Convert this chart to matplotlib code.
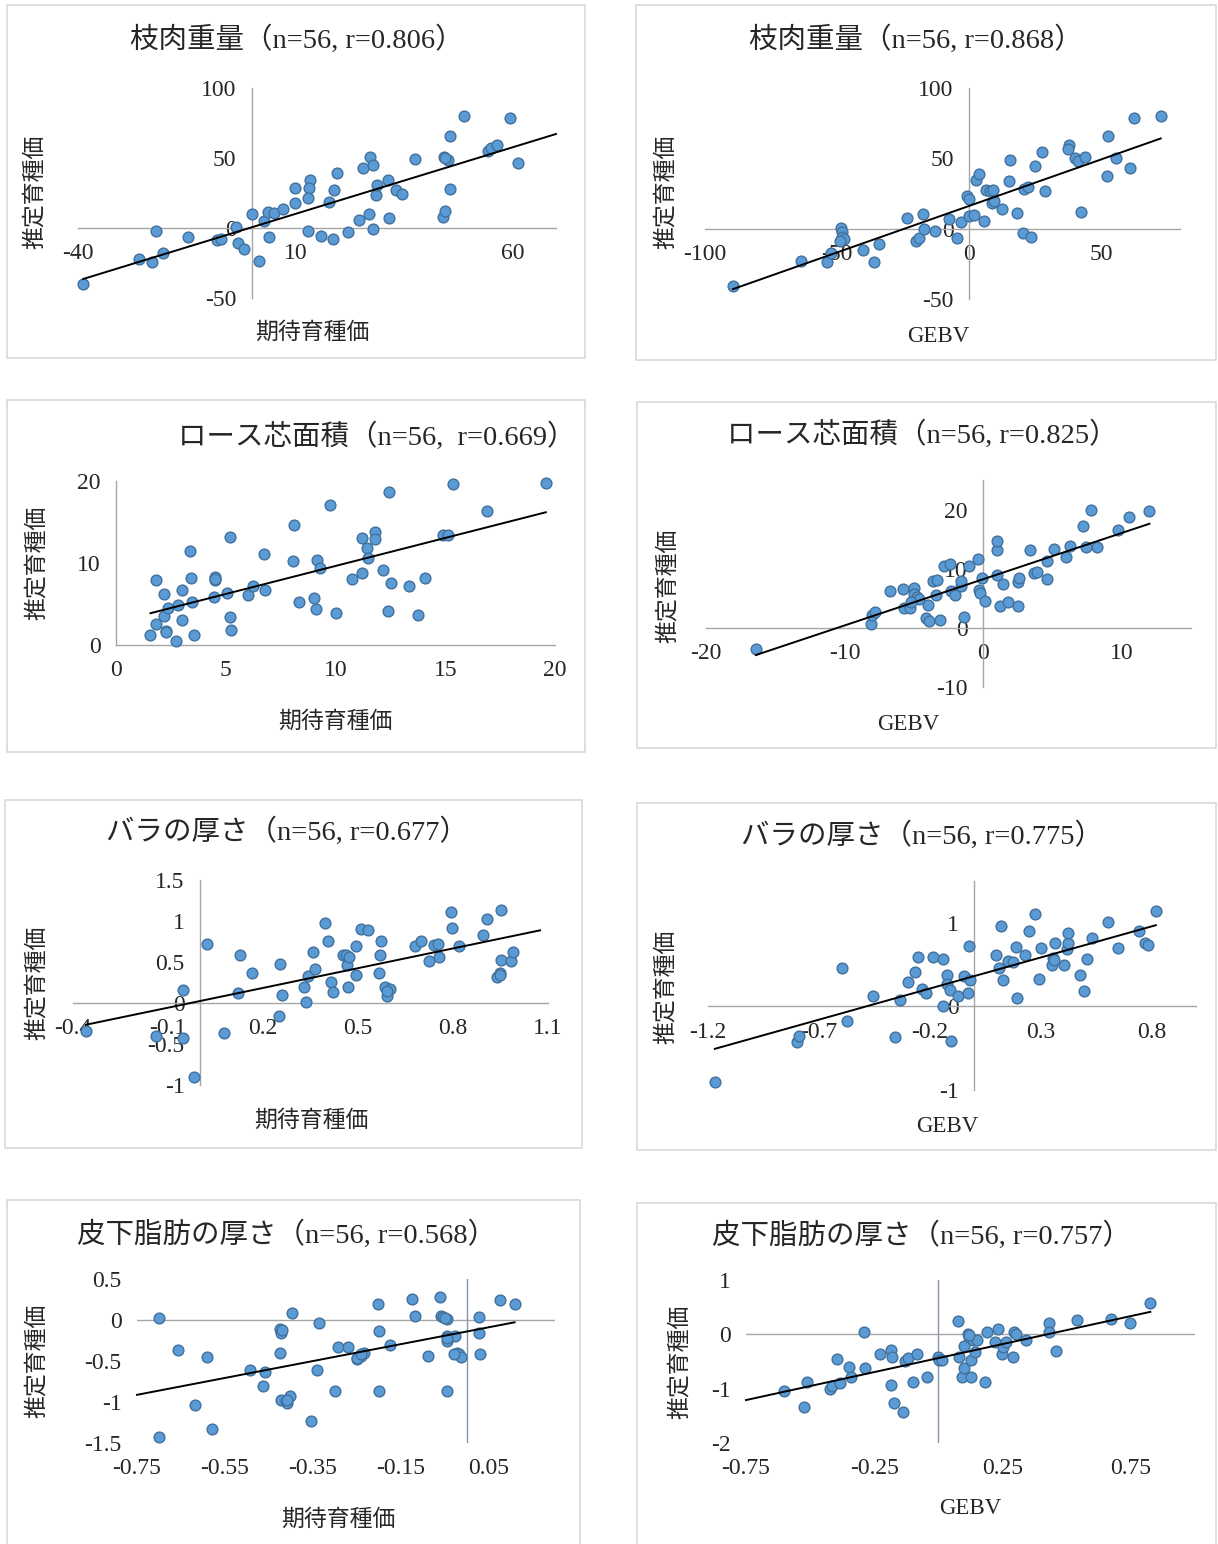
import numpy as np
import matplotlib.pyplot as plt
from matplotlib.patches import Rectangle

plt.rcParams['font.family'] = ['Liberation Serif', 'Noto Sans CJK JP']
plt.rcParams['axes.unicode_minus'] = False

W, H = 1218, 1544

# 枝肉重量 (期待育種価)
carcass_ebv_x = [-38.8, -26.0, -22.9, -22.0, -20.4, -14.8, -8.0, -7.0, -3.7, -3.1, -1.7, 0.0, 1.7, 2.7,
                 3.8, 4.0, 5.0, 7.2, 9.9, 9.9, 13.0, 13.5, 13.1, 12.9, 16.0, 17.7, 18.7, 18.8, 19.7, 22.1,
                 24.7, 25.6, 26.9, 27.1, 27.8, 27.8, 28.5, 28.7, 31.3, 31.5, 33.1, 34.6, 37.6, 44.0, 44.4,
                 44.3, 45.2, 45.6, 45.6, 48.9, 54.3, 55.0, 56.4, 59.4, 61.3, 44.5]
carcass_ebv_y = [-40.3, -22.4, -24.3, -2.1, -17.7, -6.1, -8.5, -7.5, 0.7, -10.6, -15.1, 9.7, -23.8, 5.0,
                 11.6, -6.6, 10.8, 13.7, 28.5, 17.9, -1.9, 34.0, 28.3, 21.2, -5.7, 18.9, -8.0, 26.9, 39.2,
                 -2.8, 5.7, 43.2, 9.9, 50.9, 44.8, -0.7, 23.6, 30.4, 34.2, 6.8, 27.4, 24.5, 49.5, 8.0,
                 11.8, 50.9, 48.6, 66.0, 28.1, 80.0, 54.7, 56.8, 59.4, 78.5, 46.7, 50.0]

# 枝肉重量 (GEBV)
carcass_gebv_x = [-89.4, -63.6, -53.9, -52.3, -48.3, -48.1, -47.9, -47.4, -48.7, -40.1, -36.0, -34.1,
                  -23.6, -20.1, -18.9, -17.3, -17.1, -12.7, -7.4, -4.6, -3.0, -0.6, 0.1, 0.1, 1.9, 2.7,
                  4.0, 5.6, 6.6, 7.9, 9.0, 8.7, 9.7, 12.6, 15.3, 15.6, 18.4, 20.4, 20.9, 22.3, 23.6, 25.0,
                  27.7, 28.7, 37.9, 37.6, 40.3, 41.3, 42.3, 43.9, 52.3, 52.6, 55.6, 61.0, 62.6, 72.7]
carcass_gebv_y = [-40.9, -22.8, -24.0, -17.4, 0.5, -2.1, -5.6, -7.5, -8.7, -15.1, -24.0, -11.1, 7.5,
                  -8.7, -6.8, 10.6, -0.5, -1.4, 6.6, -6.8, 4.7, 23.3, 21.4, 8.9, 9.9, 34.8, 38.6, 5.6,
                  27.3, 26.8, 27.8, 17.9, 19.5, 13.9, 33.9, 48.7, 11.1, -3.1, 28.2, 29.4, -5.9, 44.9,
                  54.6, 26.8, 59.3, 56.7, 49.9, 48.0, 11.5, 50.6, 37.2, 66.1, 50.4, 43.3, 78.6, 79.8]

# ロース芯面積 (期待育種価)
loin_ebv_x = [1.57, 1.83, 1.83, 2.20, 2.20, 2.27, 2.35, 2.75, 2.82, 3.0, 3.0, 3.38, 3.41, 3.45, 3.55,
              4.46, 4.53, 4.53, 5.05, 5.19, 5.19, 5.26, 6.03, 6.24, 6.72, 6.79, 8.07, 8.10, 8.33, 9.02,
              9.09, 9.16, 9.28, 9.76, 10.0, 10.77, 11.22, 11.22, 11.43, 11.50, 11.78, 11.78, 12.16,
              12.39, 12.46, 12.54, 13.33, 13.76, 14.09, 14.88, 15.12, 15.37, 16.92, 19.58, 2.3, 4.5]
loin_ebv_y = [1.2, 7.9, 2.5, 6.2, 3.5, 1.7, 4.5, 0.5, 4.9, 6.7, 3.1, 11.5, 8.2, 5.2, 1.2, 5.8, 8.3,
              7.9, 6.3, 13.2, 3.4, 1.8, 6.1, 7.2, 11.1, 6.7, 10.3, 14.6, 5.3, 5.7, 4.4, 10.4, 9.4,
              17.1, 3.9, 8.1, 13.1, 8.8, 11.8, 10.6, 13.8, 12.9, 9.1, 4.1, 18.6, 7.6, 7.2, 3.6, 8.2,
              13.4, 13.4, 19.6, 16.4, 19.8, 1.6, 8.0]

# ロース芯面積 (GEBV)
loin_gebv_x = [-16.4, -8.1, -8.0, -7.8, -6.7, -5.8, -5.7, -5.3, -5.0, -5.0, -4.8, -4.6, -5.2, -4.1,
               -4.0, -3.9, -3.6, -3.3, -3.4, -3.1, -2.8, -2.4, -2.3, -2.0, -1.6, -1.6, -1.4, -1.0,
               -0.4, -0.3, -0.2, -0.1, 0.1, 1.0, 1.0, 1.0, 1.2, 1.4, 1.8, 2.5, 2.5, 2.6, 3.4, 3.7,
               3.9, 4.6, 4.6, 5.1, 6.0, 6.3, 7.2, 7.4, 7.8, 8.2, 9.7, 10.5, 12.0]
loin_gebv_y = [-3.5, 0.7, 2.1, 2.6, 6.3, 6.6, 3.3, 3.4, 6.7, 5.7, 5.3, 4.9, 4.3, 1.7, 3.9, 1.1, 7.9,
               8.1, 5.5, 1.3, 10.5, 10.8, 6.3, 5.5, 7.1, 8.0, 1.9, 10.5, 11.6, 6.4, 5.9, 8.4, 4.5,
               13.2, 14.7, 8.9, 3.7, 7.4, 4.4, 3.7, 7.8, 8.4, 13.1, 9.3, 9.4, 11.3, 8.2, 13.4, 11.9,
               13.8, 17.3, 13.6, 20.0, 13.6, 16.5, 18.8, 19.8]

# バラの厚さ (期待育種価)
rib_ebv_x = [-0.36, -0.137, -0.054, -0.054, -0.019, 0.022, 0.077, 0.122, 0.126, 0.166, 0.252, 0.254,
             0.26, 0.329, 0.335, 0.342, 0.357, 0.365, 0.397, 0.405, 0.414, 0.42, 0.453, 0.463, 0.466,
             0.468, 0.495, 0.495, 0.51, 0.532, 0.565, 0.568, 0.573, 0.584, 0.59, 0.60, 0.68, 0.698,
             0.724, 0.74, 0.752, 0.755, 0.794, 0.797, 0.819, 0.895, 0.907, 0.94, 0.947, 0.952, 0.952,
             0.983, 0.99, 0.47, 0.95, 0.59]
rib_ebv_y = [-0.34, -0.40, -0.43, 0.16, -0.90, 0.72, -0.36, 0.12, 0.59, 0.36, -0.16, 0.47, 0.10,
             0.20, 0.01, 0.33, 0.62, 0.42, 0.98, 0.76, 0.26, 0.13, 0.59, 0.59, 0.46, 0.20, 0.70, 0.34,
             0.90, 0.89, 0.36, 0.59, 0.76, 0.20, 0.09, 0.17, 0.70, 0.76, 0.51, 0.71, 0.72, 0.56, 1.11,
             0.91, 0.70, 0.83, 1.02, 0.32, 0.37, 1.14, 0.53, 0.51, 0.62, 0.56, 0.34, 0.15]

# バラの厚さ (GEBV)
rib_gebv_x = [-1.169, -0.80, -0.79, -0.595, -0.573, -0.456, -0.355, -0.336, -0.30, -0.269, -0.252,
              -0.236, -0.215, -0.184, -0.139, -0.139, -0.123, -0.123, -0.11, -0.105, -0.071, -0.046,
              -0.029, -0.025, -0.02, 0.098, 0.111, 0.123, 0.128, 0.154, 0.174, 0.188, 0.191, 0.228,
              0.247, 0.275, 0.292, 0.30, 0.351, 0.356, 0.363, 0.407, 0.419, 0.424, 0.422, 0.478,
              0.495, 0.507, 0.532, 0.603, 0.65, 0.745, 0.769, 0.784, 0.819, 0.36]
rib_gebv_y = [-0.90, -0.42, -0.36, 0.46, -0.17, 0.13, -0.37, 0.08, 0.29, 0.41, 0.59, 0.21, 0.16,
              0.59, 0.57, 0.01, 0.37, 0.27, 0.20, -0.41, 0.12, 0.36, 0.16, 0.72, 0.31, 0.62, 0.46,
              0.96, 0.31, 0.54, 0.53, 0.71, 0.10, 0.62, 0.90, 1.10, 0.33, 0.70, 0.50, 0.58, 0.76,
              0.49, 0.69, 0.76, 0.88, 0.37, 0.18, 0.57, 0.82, 1.01, 0.70, 0.90, 0.76, 0.73, 1.14, 0.55]

# 皮下脂肪の厚さ (期待育種価)
fat_ebv_x = [-0.70, -0.70, -0.656, -0.619, -0.59, -0.58, -0.494, -0.459, -0.463, -0.425, -0.422,
             -0.425, -0.422, -0.412, -0.408, -0.402, -0.397, -0.354, -0.34, -0.336, -0.30, -0.294,
             -0.27, -0.25, -0.241, -0.234, -0.203, -0.201, -0.199, -0.176, -0.124, -0.118, -0.088,
             -0.061, -0.06, -0.054, -0.046, -0.046, -0.046, -0.045, -0.027, -0.022, -0.018, -0.013,
             0.028, 0.028, 0.03, 0.075, 0.108, -0.045, -0.05, -0.25, -0.42, -0.24, -0.03, -0.41]
fat_ebv_y = [0.03, -1.43, -0.36, -1.04, -0.45, -1.33, -0.61, -0.63, -0.80, -0.11, -0.16, -0.40,
             -0.97, -0.99, -1.01, -0.93, 0.09, -1.23, -0.61, -0.04, -0.87, -0.33, -0.33, -0.48,
             -0.44, -0.40, 0.20, -0.13, -0.87, -0.31, 0.26, 0.05, -0.44, 0.28, 0.05, 0.04, 0.01,
             -0.25, -0.87, -0.20, -0.20, -0.40, -0.42, -0.45, 0.04, -0.16, -0.42, 0.24, 0.20, -0.22,
             0.03, -0.46, -0.12, -0.42, -0.41, -0.98]

# 皮下脂肪の厚さ (GEBV)
fat_gebv_x = [-0.60, -0.525, -0.513, -0.423, -0.413, -0.394, -0.383, -0.348, -0.339, -0.29, -0.287,
              -0.229, -0.184, -0.181, -0.184, -0.172, -0.139, -0.129, -0.117, -0.099, -0.083, -0.046,
              -0.003, 0.004, 0.012, 0.077, 0.080, 0.091, 0.099, 0.099, 0.116, 0.12, 0.128, 0.128,
              0.135, 0.142, 0.149, 0.183, 0.19, 0.222, 0.232, 0.248, 0.25, 0.262, 0.29, 0.294, 0.304,
              0.342, 0.432, 0.432, 0.458, 0.541, 0.674, 0.746, 0.826, 0.12]
fat_gebv_y = [-1.05, -1.33, -0.88, -1.00, -0.96, -0.45, -0.90, -0.60, -0.79, 0.04, -0.62, -0.37,
              -0.28, -0.42, -0.93, -1.27, -1.43, -0.49, -0.43, -0.88, -0.36, -0.79, -0.42, -0.47,
              -0.47, 0.24, -0.42, -0.79, -0.62, -0.21, 0.00, -0.05, -0.78, -0.48, -0.11, -0.33,
              -0.11, -0.88, 0.04, -0.14, 0.09, -0.36, -0.23, -0.14, -0.41, 0.05, 0.01, -0.11, 0.20,
              0.04, -0.31, 0.26, 0.28, 0.21, 0.57, -0.02]

titles = ['枝肉重量（n=56, r=0.806）', '枝肉重量（n=56, r=0.868）',
          'ロース芯面積（n=56,  r=0.669）', 'ロース芯面積（n=56, r=0.825）',
          'バラの厚さ（n=56, r=0.677）', 'バラの厚さ（n=56, r=0.775）',
          '皮下脂肪の厚さ（n=56, r=0.568）', '皮下脂肪の厚さ（n=56, r=0.757）']
xlabels = ['期待育種価', 'GEBV'] * 4
ylabel = '推定育種価'

xs_all = [carcass_ebv_x, carcass_gebv_x, loin_ebv_x, loin_gebv_x,
          rib_ebv_x, rib_gebv_x, fat_ebv_x, fat_gebv_x]
ys_all = [carcass_ebv_y, carcass_gebv_y, loin_ebv_y, loin_gebv_y,
          rib_ebv_y, rib_gebv_y, fat_ebv_y, fat_gebv_y]

xticks_all = [[-40, 10, 60], [-100, -50, 0, 50], [0, 5, 10, 15, 20], [-20, -10, 0, 10],
              [-0.4, -0.1, 0.2, 0.5, 0.8, 1.1], [-1.2, -0.7, -0.2, 0.3, 0.8],
              [-0.75, -0.55, -0.35, -0.15, 0.05], [-0.75, -0.25, 0.25, 0.75]]
yticks_all = [[-50, 0, 50, 100], [-50, 0, 50, 100], [0, 10, 20], [-10, 0, 10, 20],
              [-1, -0.5, 0, 0.5, 1, 1.5], [-1, 0, 1], [-1.5, -1, -0.5, 0, 0.5], [-2, -1, 0, 1]]
xlims = [(-40, 70), (-100, 80), (0, 20), (-20, 15), (-0.4, 1.1), (-1.2, 1.0), (-0.75, 0.2), (-0.75, 1.0)]
ylims = [(-50, 100), (-50, 100), (0, 20), (-10, 25), (-1, 1.5), (-1, 1.5), (-1.5, 0.5), (-2, 1)]

# layout, in pixels of the final image
layout = [
    dict(box=(7, 5, 585, 358), plot=(78, 88, 556, 298), title=(297, 40), xl=(312, 333), yl=(35, 192), mode='zero', trend=(None, 70)),
    dict(box=(636, 5, 1216, 360), plot=(705, 88, 1180, 299), title=(916, 40), xl=(938, 337), yl=(666, 192), mode='zero', trend=(None, None)),
    dict(box=(7, 400, 585, 752), plot=(116, 481, 555, 645), title=(377, 437), xl=(335, 722), yl=(37, 563), mode='zero', trend=(None, None)),
    dict(box=(637, 402, 1216, 748), plot=(706, 480, 1191, 687), title=(922, 435), xl=(908, 725), yl=(668, 586), mode='zero', trend=(None, None)),
    dict(box=(5, 800, 582, 1148), plot=(73, 880, 548, 1085), title=(287, 832), xl=(311, 1121), yl=(37, 983), mode='zero', trend=(None, 1.075)),
    dict(box=(637, 803, 1216, 1150), plot=(708, 881, 1196, 1090), title=(922, 836), xl=(947, 1127), yl=(666, 987), mode='zero', trend=(None, None)),
    dict(box=(7, 1200, 580, 1560), plot=(137, 1279, 555, 1443), title=(287, 1235), xl=(338, 1520), yl=(37, 1361), mode='low', trend=(-0.75, None)),
    dict(box=(637, 1203, 1216, 1560), plot=(746, 1280, 1195, 1443), title=(922, 1236), xl=(970, 1509), yl=(680, 1362), mode='low', trend=(-0.75, None)),
]

axis_col = '#A6A6A6'
dot_col = '#5B9BD5'
dot_edge = '#41719C'

fig = plt.figure(figsize=(W / 100, H / 100), dpi=100)


def fx(px):
    return px / W


def fy(py):
    return 1 - py / H


for i, lay in enumerate(layout):
    bx0, by0, bx1, by1 = lay['box']
    fig.patches.append(Rectangle((fx(bx0), fy(by1)), fx(bx1 - bx0), (by1 - by0) / H,
                                 transform=fig.transFigure, fill=False, edgecolor='#D9D9D9', lw=1.2))
    x0, y0, x1, y1 = lay['plot']
    ax = fig.add_axes([fx(x0), fy(y1), fx(x1 - x0), (y1 - y0) / H])
    ax.set_facecolor('none')
    x = np.array(xs_all[i])
    y = np.array(ys_all[i])

    ax.set_xlim(*xlims[i])
    ax.set_ylim(*ylims[i])
    ax.set_xticks(xticks_all[i])
    ax.set_yticks(yticks_all[i])
    ax.set_xticklabels([f'{v:g}' for v in xticks_all[i]])
    ax.set_yticklabels([f'{v:g}' for v in yticks_all[i]])
    ax.tick_params(length=0, labelsize=17, pad=11, colors='#262626')
    for s in ['top', 'right']:
        ax.spines[s].set_visible(False)
    if lay['mode'] == 'zero':
        for s in ['left', 'bottom']:
            ax.spines[s].set_position(('data', 0))
            ax.spines[s].set_color(axis_col)
            ax.spines[s].set_linewidth(1.0)
    else:
        for s in ['left', 'bottom']:
            ax.spines[s].set_visible(False)
        ax.axhline(0, color=axis_col, lw=1.0, zorder=1)
        ax.axvline(0, color='#8497B0', lw=1.0, zorder=1)

    ax.scatter(x, y, s=60, color=dot_col, edgecolor=dot_edge, linewidth=1.0, zorder=3, clip_on=False)

    coef = np.polyfit(x, y, 1)
    lo, hi = lay['trend']
    lo = x.min() if lo is None else lo
    hi = x.max() if hi is None else hi
    tx = np.array([lo, hi])
    ax.plot(tx, np.polyval(coef, tx), color='black', lw=1.4, zorder=4, clip_on=False)

    fig.text(fx(lay['title'][0]), fy(lay['title'][1]), titles[i], fontsize=20.5,
             ha='center', va='center', color='#262626')
    fig.text(fx(lay['xl'][0]), fy(lay['xl'][1]), xlabels[i], fontsize=16.5,
             ha='center', va='center', color='#262626')
    fig.text(fx(lay['yl'][0]), fy(lay['yl'][1]), ylabel, fontsize=16.5, rotation=90,
             ha='center', va='center', color='#262626')

fig.savefig('out.png', dpi=100, facecolor='white')
